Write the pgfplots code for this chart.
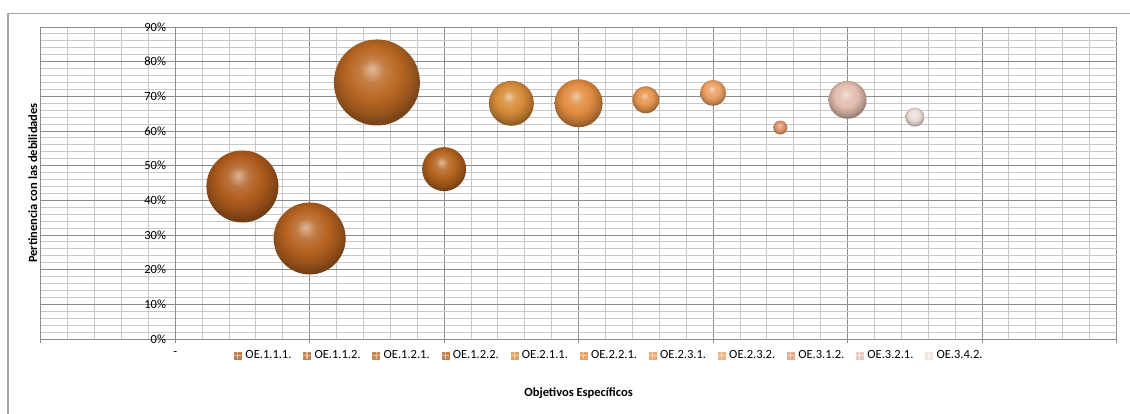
\documentclass[border=0pt]{standalone}
\usepackage{pgfplots}
\pgfplotsset{compat=1.18}
\usepackage{fontspec}
\setmainfont{Carlito}
\definecolor{gridmaj}{RGB}{140,140,140}
\definecolor{gridmin}{RGB}{200,200,200}
\definecolor{framec}{RGB}{165,165,165}
\definecolor{c1}{RGB}{176,92,30}
\definecolor{c2}{RGB}{182,98,32}
\definecolor{c3}{RGB}{186,104,36}
\definecolor{c4}{RGB}{180,100,30}
\definecolor{c5}{RGB}{214,140,56}
\definecolor{c6}{RGB}{226,140,64}
\definecolor{c7}{RGB}{230,150,80}
\definecolor{c8}{RGB}{236,160,100}
\definecolor{c9}{RGB}{222,150,110}
\definecolor{c10}{RGB}{228,190,176}
\definecolor{c11}{RGB}{236,220,216}
\colorlet{bubcol}{orange}
\pgfdeclareradialshading[bubcol]{bubble}{\pgfqpoint{-3bp}{8bp}}{color(0bp)=(bubcol!45!white); color(7bp)=(bubcol!85!white); color(15bp)=(bubcol); color(23bp)=(bubcol!80!black); color(27bp)=(bubcol!65!black); color(50bp)=(bubcol!65!black)}
\pgfdeclareplotmark{bubble}{\shade[shading=bubble, draw=none, fill=none] (0pt,0pt) circle (\pgfplotmarksize);}
\tikzset{bubcolor/.code={\colorlet{bubcol}{#1}}}
\pgfplotsset{
  bub/.style={scatter, only marks, mark=bubble, mark options={bubcolor=#1},
    visualization depends on={\thisrow{r}\as\rad},
    scatter/@pre marker code/.append style={/tikz/mark size=\rad bp},
    legend image code/.code={\fill[#1!80!white] (0bp,-3.5bp) rectangle (7bp,3.5bp);
      \draw[#1!40!white, line width=1.2bp] (3.5bp,-3.5bp) -- (3.5bp,3.5bp) (0bp,0bp) -- (7bp,0bp);}},
}
\begin{document}
\fontsize{12.5bp}{15bp}\selectfont
\begin{tikzpicture}
\path[use as bounding box] (-40.7bp,-75bp) rectangle (1089.3bp,339bp);
\draw[framec, line width=1.2bp] (-32.7bp,-200bp) -- (-32.7bp,325.5bp) -- (1300bp,325.5bp);
\begin{axis}[
  at={(0,0)}, anchor=south west,
  scale only axis, width=1075.8bp, height=312bp,
  xmin=-2, xmax=14, ymin=0, ymax=90,
  xtick={-2,0,...,14}, minor x tick num=4,
  xticklabels={,-,,,,,,,},
  ytick={0,10,...,90}, minor y tick num=4,
  yticklabel={\pgfmathprintnumber{\tick}\%},
  /pgf/number format/assume math mode=true,
  grid=both,
  major grid style={gridmaj, line width=0.9bp},
  minor grid style={gridmin, line width=0.9bp},
  axis x line*=bottom, axis y line*=middle,
  hide obscured x ticks=false, hide obscured y ticks=false,
  axis line style={gridmaj, line width=0.9bp},
  tick align=outside, major tick length=4bp, minor tick length=0pt,
  tick style={gridmaj, line width=0.9bp},
  yticklabel style={anchor=east, inner sep=1bp, xshift=-4bp},
  xticklabel style={anchor=center, yshift=-11bp},
  xlabel={\bfseries Objetivos Específicos},
  ylabel={\bfseries Pertinencia con las debilidades},
  xlabel style={at={(rel axis cs:0.5,0)}, anchor=center, yshift=-54bp},
  ylabel style={at={(rel axis cs:0,0.5)}, anchor=center, yshift=8bp},
  legend columns=11,
  legend style={at={(rel axis cs:0.5275,0)}, anchor=center, yshift=-16.7bp,
    draw=none, fill=none, inner sep=0pt, nodes={inner sep=0pt},
    /tikz/every odd column/.append style={column sep=3.5bp},
    /tikz/every even column/.append style={column sep=11.4bp}},
]
\addplot[bub=c1] table[row sep=\\] {x y r\\ 1 44 36\\};
\addlegendentry{OE.1.1.1.}
\addplot[bub=c2] table[row sep=\\] {x y r\\ 2 29 36\\};
\addlegendentry{OE.1.1.2.}
\addplot[bub=c3] table[row sep=\\] {x y r\\ 3 74 43\\};
\addlegendentry{OE.1.2.1.}
\addplot[bub=c4] table[row sep=\\] {x y r\\ 4 49 22\\};
\addlegendentry{OE.1.2.2.}
\addplot[bub=c5] table[row sep=\\] {x y r\\ 5 68 22.5\\};
\addlegendentry{OE.2.1.1.}
\addplot[bub=c6] table[row sep=\\] {x y r\\ 6 68 24\\};
\addlegendentry{OE.2.2.1.}
\addplot[bub=c7] table[row sep=\\] {x y r\\ 7 69 13.5\\};
\addlegendentry{OE.2.3.1.}
\addplot[bub=c8] table[row sep=\\] {x y r\\ 8 71 13\\};
\addlegendentry{OE.2.3.2.}
\addplot[bub=c9] table[row sep=\\] {x y r\\ 9 61 7\\};
\addlegendentry{OE.3.1.2.}
\addplot[bub=c10] table[row sep=\\] {x y r\\ 10 69 19\\};
\addlegendentry{OE.3.2.1.}
\addplot[bub=c11] table[row sep=\\] {x y r\\ 11 64 9.5\\};
\addlegendentry{OE.3.4.2.}
\end{axis}
\end{tikzpicture}
\end{document}
